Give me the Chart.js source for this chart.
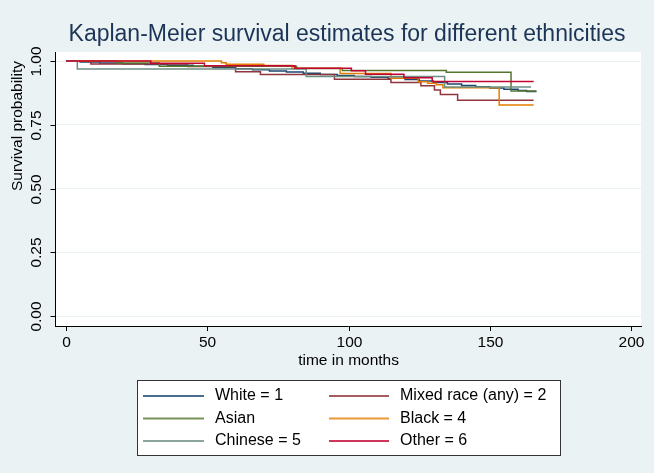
<!DOCTYPE html>
<html>
<head>
<meta charset="utf-8">
<script src="https://cdn.jsdelivr.net/npm/chart.js@4/dist/chart.umd.min.js"></script>
<style>
  html, body { margin: 0; padding: 0; background: #eaf2f3; }
  #km { display: block; }
</style>
</head>
<body>
<canvas id="km" width="654" height="473"></canvas>
<script>
// Kaplan-Meier step estimates by ethnicity (time in months, survival probability)
const seriesNames = ['White = 1', 'Mixed race (any) = 2', 'Asian', 'Black = 4', 'Chinese = 5', 'Other = 6'];
const seriesColors = ['#1a476f', '#90353b', '#55752f', '#e37e00', '#6e8e84', '#c10534'];

const whiteTimes = [0, 5, 12, 20, 28, 36, 45, 52, 60, 66, 72, 78, 84, 90, 96, 102, 108, 114, 120, 125, 130, 135, 140, 145, 150, 155, 160, 163, 166.5];
const whiteSurv  = [1.0, 0.996, 0.992, 0.989, 0.986, 0.983, 0.979, 0.975, 0.970, 0.966, 0.961, 0.957, 0.952, 0.947, 0.943, 0.939, 0.936, 0.932, 0.927, 0.922, 0.916, 0.910, 0.904, 0.899, 0.894, 0.889, 0.884, 0.880, 0.880];

const mixedTimes = [0, 8.8, 43, 60, 68.8, 95, 115, 125.6, 130.4, 132.5, 138.6, 165.5];
const mixedSurv  = [1.0, 0.988, 0.978, 0.958, 0.947, 0.928, 0.916, 0.903, 0.886, 0.869, 0.846, 0.846];

const asianTimes = [0, 18, 33, 81.6, 97.8, 134.6, 157.5, 166.5];
const asianSurv  = [1.0, 0.992, 0.979, 0.971, 0.963, 0.956, 0.882, 0.882];

const blackTimes = [0, 55, 56.7, 70, 80, 97, 115, 124.6, 128, 131, 133.4, 153.3, 165.5];
const blackSurv  = [1.0, 0.993, 0.987, 0.982, 0.972, 0.951, 0.932, 0.919, 0.913, 0.907, 0.895, 0.827, 0.827];

const chineseTimes = [0, 4, 85, 134, 164.6];
const chineseSurv  = [1.0, 0.969, 0.939, 0.898, 0.898];

const otherTimes = [0, 30, 49, 81, 101, 106, 119.6, 129.6, 165.5];
const otherSurv  = [1.0, 0.991, 0.981, 0.972, 0.962, 0.948, 0.934, 0.920, 0.920];

const xTicks = [0, 50, 100, 150, 200];
const yTicks = [0, 0.25, 0.5, 0.75, 1.0];
const yTickLabels = ['0.00', '0.25', '0.50', '0.75', '1.00'];

const allTimes = [whiteTimes, mixedTimes, asianTimes, blackTimes, chineseTimes, otherTimes];
const allSurv  = [whiteSurv, mixedSurv, asianSurv, blackSurv, chineseSurv, otherSurv];

const FONT = '"Liberation Sans", Arial, Helvetica, sans-serif';
const BG = '#eaf2f3';

const datasets = seriesNames.map((name, i) => ({
  label: name,
  data: allTimes[i].map((t, k) => ({ x: t, y: allSurv[i][k] })),
  borderColor: seriesColors[i],
  borderWidth: 1.5,
  pointRadius: 0,
  stepped: 'before',
  fill: false,
  order: seriesNames.length - i   // later series drawn on top
}));

// Background, axis labels, tick marks and the boxed two-column key
const decor = {
  id: 'decor',
  beforeDraw(chart) {
    const { ctx, chartArea: a } = chart;
    ctx.save();
    ctx.fillStyle = BG;
    ctx.fillRect(0, 0, chart.width, chart.height);
    ctx.fillStyle = '#ffffff';
    ctx.fillRect(a.left, a.top, a.right - a.left, a.bottom - a.top);
    ctx.restore();
  },
  afterDraw(chart) {
    const { ctx, chartArea: a, scales: { x, y } } = chart;
    ctx.save();
    ctx.strokeStyle = '#000';
    ctx.lineWidth = 1;
    ctx.fillStyle = '#000';

    // x ticks and labels
    ctx.font = '15.5px ' + FONT;
    ctx.textAlign = 'center';
    ctx.textBaseline = 'middle';
    xTicks.forEach(v => {
      const px = Math.round(x.getPixelForValue(v)) + 0.5;
      ctx.beginPath();
      ctx.moveTo(px, a.bottom);
      ctx.lineTo(px, a.bottom + 5);
      ctx.stroke();
      ctx.fillText(String(v), px, a.bottom + 17);
    });
    ctx.fillText('time in months', (x.getPixelForValue(0) + x.getPixelForValue(200)) / 2, a.bottom + 35);

    // y ticks and rotated labels
    yTicks.forEach((v, i) => {
      const py = Math.round(y.getPixelForValue(v)) + 0.5;
      ctx.beginPath();
      ctx.moveTo(a.left - 5, py);
      ctx.lineTo(a.left, py);
      ctx.stroke();
      ctx.save();
      ctx.translate(37, py);
      ctx.rotate(-Math.PI / 2);
      ctx.fillText(yTickLabels[i], 0, 0);
      ctx.restore();
    });
    ctx.save();
    ctx.translate(18, 126);
    ctx.rotate(-Math.PI / 2);
    ctx.fillText('Survival probability', 0, 0);
    ctx.restore();

    // title
    ctx.fillStyle = '#1c3557';
    ctx.font = '23px ' + FONT;
    ctx.fillText('Kaplan-Meier survival estimates for different ethnicities', 347, 35);

    // key
    const box = { x: 137.5, y: 380.5, w: 423, h: 75 };
    ctx.fillStyle = '#ffffff';
    ctx.fillRect(box.x, box.y, box.w, box.h);
    ctx.strokeStyle = '#333';
    ctx.strokeRect(box.x, box.y, box.w, box.h);
    const rows = [396, 418.5, 441];
    const cols = [{ l0: 143, l1: 204, tx: 215 }, { l0: 329, l1: 389, tx: 400 }];
    ctx.font = '16px ' + FONT;
    ctx.textAlign = 'left';
    ctx.textBaseline = 'middle';
    chart.data.datasets.forEach((ds, i) => {
      const r = rows[Math.floor(i / 2)];
      const c = cols[i % 2];
      ctx.strokeStyle = ds.borderColor;
      ctx.globalAlpha = 0.8;
      ctx.lineWidth = 1.8;
      ctx.beginPath();
      ctx.moveTo(c.l0, r);
      ctx.lineTo(c.l1, r);
      ctx.stroke();
      ctx.globalAlpha = 1;
      ctx.fillStyle = '#000';
      ctx.fillText(ds.label, c.tx, r);
    });
    ctx.restore();
  }
};

new Chart(document.getElementById('km'), {
  type: 'line',
  data: { datasets },
  options: {
    responsive: false,
    animation: false,
    devicePixelRatio: 1,
    layout: { padding: { left: 55.5, top: 52, right: 13, bottom: 147 } },
    plugins: { legend: { display: false }, tooltip: { enabled: false }, title: { display: false } },
    scales: {
      x: {
        type: 'linear',
        min: -3.72, max: 203.5,
        afterBuildTicks: s => { s.ticks = xTicks.map(v => ({ value: v })); },
        ticks: { display: false },
        grid: { display: false, drawTicks: false },
        border: { display: true, color: '#000', width: 1 }
      },
      y: {
        type: 'linear',
        min: -0.0392, max: 1.0353,
        afterBuildTicks: s => { s.ticks = yTicks.map(v => ({ value: v })); },
        ticks: { display: false },
        grid: { display: true, color: BG, lineWidth: 1, drawTicks: false },
        border: { display: true, color: '#000', width: 1 }
      }
    }
  },
  plugins: [decor]
});
</script>
</body>
</html>
